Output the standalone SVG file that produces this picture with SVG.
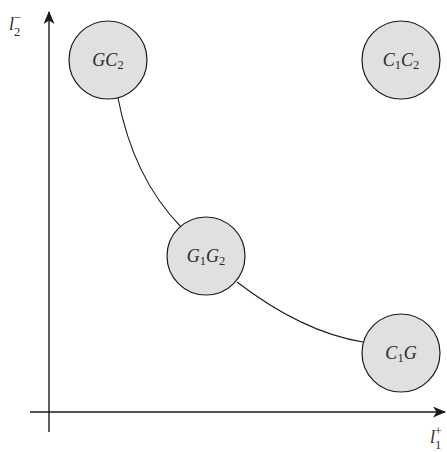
<svg xmlns="http://www.w3.org/2000/svg" width="447" height="452" viewBox="0 0 447 452">
<style>
.node{fill:#e0e0e0;stroke:#1a1a1a;stroke-width:1.2}
.lbl{font-family:"Liberation Serif","DejaVu Serif",serif;font-size:18px;font-style:italic;fill:#2a2a2a}
.sub{font-size:12.5px;font-style:normal}
.axis{stroke:#1a1a1a;stroke-width:1.4;fill:none}
.edge{stroke:#1a1a1a;stroke-width:1.1;fill:none}
</style>
<defs>
<marker id="arr" viewBox="0 0 13 11" refX="12" refY="5.5" markerWidth="13" markerHeight="11" markerUnits="userSpaceOnUse" orient="auto">
<path d="M0,0 L13,5.5 L0,11 L3.5,5.5 Z" fill="#1a1a1a"/>
</marker>
</defs>
<g id="axes">
<line class="axis" x1="49" y1="432" x2="49" y2="12" marker-end="url(#arr)"/>
<line class="axis" x1="30" y1="412" x2="445" y2="412" marker-end="url(#arr)"/>
<text class="lbl" x="9" y="30">l<tspan class="sub" dy="6">2</tspan><tspan class="sub" dx="-6.5" dy="-14">−</tspan></text>
<text class="lbl" x="430" y="443">l<tspan class="sub" dy="6">1</tspan><tspan class="sub" dx="-6.5" dy="-14">+</tspan></text>
</g>
<g id="connectors">
<path class="edge" d="M118,98 C128,150 150,195 181,227"/>
<path class="edge" d="M237,282 C280,315 320,335 363,342"/>
</g>
<g id="GC2">
<circle class="node" cx="108" cy="60" r="39"/>
<text class="lbl" x="108" y="66" text-anchor="middle">GC<tspan class="sub" dy="3">2</tspan></text>
</g>
<g id="C1C2">
<circle class="node" cx="401" cy="60" r="39"/>
<text class="lbl" x="401" y="66" text-anchor="middle">C<tspan class="sub" dy="3">1</tspan><tspan dy="-3">C</tspan><tspan class="sub" dy="3">2</tspan></text>
</g>
<g id="G1G2">
<circle class="node" cx="206" cy="256" r="39"/>
<text class="lbl" x="206" y="262" text-anchor="middle">G<tspan class="sub" dy="3">1</tspan><tspan dy="-3">G</tspan><tspan class="sub" dy="3">2</tspan></text>
</g>
<g id="C1G">
<circle class="node" cx="401" cy="353" r="39"/>
<text class="lbl" x="401" y="359" text-anchor="middle">C<tspan class="sub" dy="3">1</tspan><tspan dy="-3">G</tspan></text>
</g>
</svg>
